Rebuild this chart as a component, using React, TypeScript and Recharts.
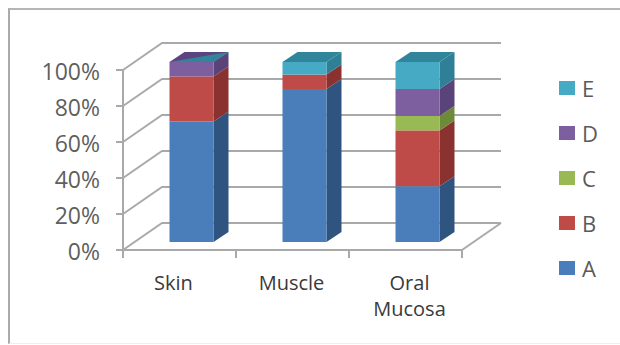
import { BarChart, Bar, XAxis, YAxis, CartesianGrid, Legend } from 'recharts';

const categories = ['Skin', 'Muscle', 'Oral Mucosa'];
const seriesNames = ['A', 'B', 'C', 'D', 'E'];
const seriesA = [67, 85, 31];
const seriesB = [25, 8, 31];
const seriesC = [0, 0, 8];
const seriesD = [8, 0, 15];
const seriesE = [0, 7, 15];
const percentTicks = [0, 20, 40, 60, 80, 100];

const allSeries = [seriesA, seriesB, seriesC, seriesD, seriesE];
const data = categories.map((name, i) => {
  const row: Record<string, string | number> = { name };
  seriesNames.forEach((s, j) => {
    row[s] = allSeries[j][i];
  });
  return row;
});

const colors: Record<string, { front: string; side: string; top: string }> = {
  A: { front: '#4A7EBB', side: '#2F5480', top: '#3B6A9E' },
  B: { front: '#BE4B48', side: '#8A322F', top: '#A33F3C' },
  C: { front: '#98B954', side: '#6C8A38', top: '#84A048' },
  D: { front: '#7D5FA0', side: '#5A4378', top: '#5C4480' },
  E: { front: '#46AAC5', side: '#2F7F96', top: '#31859B' },
};

const WIDTH = 620;
const HEIGHT = 345;
const AXIS_X = 123;
const PLOT_RIGHT = 462;
const PLOT_TOP = 70;
const PLOT_BOTTOM = 250;
const LEGEND_WIDTH = 50;

// depth of the walls behind the front plane
const WALL_DX = 39;
const WALL_DY = 27;
// bars sit a little way into the floor
const BAR_DX = 11.5;
const BAR_DY = 8;
// depth of the bars themselves
const SIDE_DX = 15;
const SIDE_DY = 10;

const LINE = '#A9A9A9';

const WallLine = (props: any) => {
  const { y1, key } = props;
  return (
    <g key={key}>
      <path
        d={`M${AXIS_X},${y1}L${AXIS_X + WALL_DX},${y1 - WALL_DY}L${PLOT_RIGHT + WALL_DX},${y1 - WALL_DY}`}
        fill="none"
        stroke={LINE}
        strokeWidth={2}
      />
      {y1 === PLOT_BOTTOM && (
        <line
          x1={PLOT_RIGHT}
          y1={y1}
          x2={PLOT_RIGHT + WALL_DX}
          y2={y1 - WALL_DY}
          stroke={LINE}
          strokeWidth={2}
        />
      )}
    </g>
  );
};

// One stack segment as a front face and a side face, plus a lid when it ends the stack
const makeSegment = (name: string) => (props: any) => {
  const { x, y, width, height, payload } = props;
  const value = payload[name] as number;
  const idx = seriesNames.indexOf(name);
  const isLast = seriesNames.slice(idx + 1).every((s) => !payload[s]);
  const c = colors[name];
  const fx = x + BAR_DX;
  const fy = y - BAR_DY;
  const rx = fx + width;
  if (!value) {
    // an empty top segment still shows as a sliver across the lid below it
    if (idx !== seriesNames.length - 1) return <g />;
    return (
      <polygon points={`${fx},${fy} ${rx + SIDE_DX},${fy - SIDE_DY} ${rx},${fy}`} fill={c.top} />
    );
  }
  return (
    <g>
      <polygon
        points={`${rx},${fy} ${rx + SIDE_DX},${fy - SIDE_DY} ${rx + SIDE_DX},${fy + height - SIDE_DY} ${rx},${fy + height}`}
        fill={c.side}
      />
      <rect x={fx} y={fy} width={width} height={height} fill={c.front} />
      {isLast && (
        <polygon
          points={`${fx},${fy} ${fx + SIDE_DX},${fy - SIDE_DY} ${rx + SIDE_DX},${fy - SIDE_DY} ${rx},${fy}`}
          fill={c.top}
        />
      )}
    </g>
  );
};

const CategoryTick = (props: any) => {
  const { x, payload, index } = props;
  const half = payload.offset ?? 56.5;
  const words = String(payload.value).split(' ');
  const labelX = x + (index - 1) * 5 - 1;
  return (
    <g>
      <line x1={x - half} y1={PLOT_BOTTOM} x2={x - half} y2={PLOT_BOTTOM + 8} stroke={LINE} strokeWidth={2} />
      <line x1={x + half} y1={PLOT_BOTTOM} x2={x + half} y2={PLOT_BOTTOM + 8} stroke={LINE} strokeWidth={2} />
      <text x={labelX} y={290} textAnchor="middle" fontSize={20} fill="#3A3A3A" fontFamily="Open Sans">
        {words.map((w, i) => (
          <tspan key={w} x={labelX} dy={i === 0 ? 0 : 26}>
            {w}
          </tspan>
        ))}
      </text>
    </g>
  );
};

const LegendList = ({ payload }: any) => (
  <div>
    {[...(payload ?? [])].reverse().map((entry: any) => (
      <div key={entry.value} style={{ display: 'flex', alignItems: 'center', height: 45 }}>
        <span
          style={{ width: 16, height: 14, background: colors[entry.value].front, marginRight: 7 }}
        />
        <span style={{ fontSize: 22, color: '#5A5A5A', fontFamily: 'Open Sans' }}>{entry.value}</span>
      </div>
    ))}
  </div>
);

export default function App() {
  return (
    <div style={{ position: 'absolute', left: 0, top: 0, width: WIDTH, height: HEIGHT, background: '#fff' }}>
      <div
        style={{
          position: 'absolute',
          left: 8,
          top: 8,
          right: 0,
          bottom: 1,
          borderLeft: '2px solid #ABABAB',
          borderTop: '2px solid #B5B5B5',
          borderBottom: '1px solid #EEEEEE',
        }}
      />
      <BarChart
        width={WIDTH}
        height={HEIGHT}
        data={data}
        margin={{ top: PLOT_TOP, right: WIDTH - PLOT_RIGHT - LEGEND_WIDTH, bottom: 0, left: 0 }}
        barSize={44}
        style={{ position: 'absolute', left: 0, top: 0 }}
      >
        <CartesianGrid vertical={false} horizontal={WallLine} />
        <XAxis
          dataKey="name"
          interval={0}
          height={HEIGHT - PLOT_BOTTOM}
          tickLine={false}
          axisLine={{ stroke: LINE, strokeWidth: 2 }}
          tick={CategoryTick}
        />
        <YAxis
          width={AXIS_X}
          domain={[0, 100]}
          ticks={percentTicks}
          tickFormatter={(v: number) => `${v}%`}
          tickSize={7}
          tickMargin={16}
          tickLine={{ stroke: LINE, strokeWidth: 2 }}
          axisLine={{ stroke: LINE, strokeWidth: 2 }}
          tick={{ fontSize: 23, fill: '#5F5F5F', fontFamily: 'Open Sans', dy: 2 }}
        />
        <Legend
          layout="vertical"
          align="right"
          verticalAlign="top"
          content={LegendList}
          wrapperStyle={{ position: 'absolute', left: 559, top: 65, width: LEGEND_WIDTH, bottom: 'auto', right: 'auto' }}
        />
        {seriesNames.map((s) => (
          <Bar
            key={s}
            dataKey={s}
            stackId="total"
            fill={colors[s].front}
            shape={makeSegment(s)}
            isAnimationActive={false}
          />
        ))}
      </BarChart>
    </div>
  );
}
